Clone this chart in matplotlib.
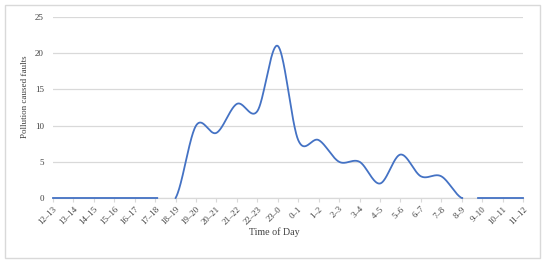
import numpy as np
import matplotlib
matplotlib.use("Agg")
import matplotlib.pyplot as plt
from matplotlib.patches import Rectangle


HOURS = [
    "12–13", "13–14", "14–15", "15–16", "16–17", "17–18", "18–19", "19–20",
    "20–21", "21–22", "22–23", "23–0", "0–1", "1–2", "2–3", "3–4",
    "4–5", "5–6", "6–7", "7–8", "8–9", "9–10", "10–11", "11–12",
]
FAULTS = [0, 0, 0, 0, 0, 0, 0, 10, 9, 13, 12, 21, 8, 8, 5, 5, 2, 6, 3, 3, 0, 0, 0, 0]

LINE_COLOR = "#4472C4"
GRID_COLOR = "#d9d9d9"
TEXT_COLOR = "#404040"


def smooth_curve(y, samples=40):
    # Catmull-Rom style smoothing, similar to a spreadsheet "smoothed line"
    y = np.asarray(y, dtype=float)
    n = len(y)
    tangents = np.zeros(n)
    tangents[1:-1] = (y[2:] - y[:-2]) / 2.0
    tangents[0] = y[1] - y[0]
    tangents[-1] = y[-1] - y[-2]
    xs, ys = [], []
    t = np.linspace(0, 1, samples, endpoint=False)
    h00 = 2 * t**3 - 3 * t**2 + 1
    h10 = t**3 - 2 * t**2 + t
    h01 = -2 * t**3 + 3 * t**2
    h11 = t**3 - t**2
    for i in range(n - 1):
        xs.append(i + t)
        ys.append(h00 * y[i] + h10 * tangents[i] + h01 * y[i + 1] + h11 * tangents[i + 1])
    xs.append([n - 1])
    ys.append([y[-1]])
    return np.concatenate(xs), np.concatenate(ys)


plt.rcParams["font.family"] = ["Liberation Serif", "DejaVu Serif"]

fig = plt.figure(figsize=(5.5, 2.65), dpi=100)
fig.patches.append(Rectangle((5 / 550, 1 - 258 / 265), 535 / 550, 253 / 265,
                             transform=fig.transFigure, fill=False,
                             edgecolor=GRID_COLOR, linewidth=1.0))
ax = fig.add_axes([53 / 550, 1 - 198 / 265, 470 / 550, 181 / 265])

x = np.arange(len(HOURS))
sx, sy = smooth_curve(FAULTS)
sy = np.where(sy < -0.05, np.nan, np.maximum(sy, 0))
ax.plot(sx, sy, color=LINE_COLOR, linewidth=1.3, clip_on=False, zorder=3)

ax.set_xlim(0, len(HOURS) - 1)
ax.set_ylim(0, 25)
ax.set_yticks([0, 5, 10, 15, 20, 25])
ax.set_xticks(x)
ax.set_xticklabels(HOURS, rotation=45, ha="right", va="top", rotation_mode="anchor")

ax.grid(axis="y", color=GRID_COLOR, linewidth=0.9)
ax.set_axisbelow(True)
for side in ["top", "right", "left"]:
    ax.spines[side].set_visible(False)
ax.spines["bottom"].set_color(GRID_COLOR)
ax.spines["bottom"].set_linewidth(0.9)
ax.tick_params(axis="x", colors=GRID_COLOR, length=3, width=0.8,
               labelcolor=TEXT_COLOR, labelsize=6.3, pad=2)
ax.tick_params(axis="y", length=0, labelcolor=TEXT_COLOR, labelsize=6.5, pad=6.5)

ax.set_ylabel("Pollution caused faults", fontsize=6.5, color=TEXT_COLOR)
ax.yaxis.set_label_coords(-0.051, 0.561)
ax.set_xlabel("Time of Day", fontsize=7.2, color=TEXT_COLOR)
ax.xaxis.set_label_coords(0.470, -0.160)

fig.savefig("out.png", dpi=100)
